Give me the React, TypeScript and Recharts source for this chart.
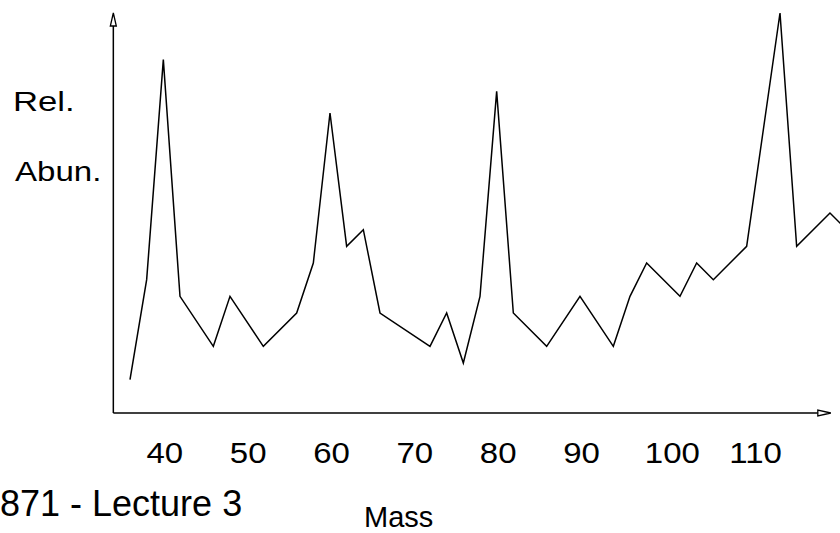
import { LineChart, Line, XAxis, YAxis, ReferenceLine } from "recharts";

const masses = [
  36, 38, 40, 42, 46, 48, 52, 56, 58, 60, 62, 64, 66, 72, 74, 76, 78, 80, 82,
  86, 90, 94, 96, 98, 102, 104, 106, 110, 114, 116, 120, 122,
];
const abundance = [
  2, 8, 21.2, 7, 4, 7, 4, 6, 9, 18, 10, 11, 6, 4, 6, 3, 7, 19.3, 6, 4, 7, 4, 7,
  9, 7, 9, 8, 10, 24, 10, 12, 11,
];
const massTicks = [40, 50, 60, 70, 80, 90, 100, 110];

const FONT = "'Liberation Sans', Arial, Helvetica, sans-serif";

// arrow-headed axis line (open triangle head at x2,y2)
const ArrowLine = (props: any) => {
  const { x1, y1, x2, y2 } = props;
  const dx = x2 - x1;
  const dy = y2 - y1;
  const len = Math.sqrt(dx * dx + dy * dy) || 1;
  const ux = dx / len;
  const uy = dy / len;
  const headLen = 13;
  const headW = 3;
  const bx = x2 - ux * headLen;
  const by = y2 - uy * headLen;
  const pts = [
    `${x2},${y2}`,
    `${bx - uy * headW},${by + ux * headW}`,
    `${bx + uy * headW},${by - ux * headW}`,
  ].join(" ");
  return (
    <g>
      <line x1={x1} y1={y1} x2={bx} y2={by} stroke="#000" strokeWidth={1.5} />
      <polygon points={pts} fill="#fff" stroke="#000" strokeWidth={1.3} />
    </g>
  );
};

const MassTick = (props: any) => {
  const { x, y, payload } = props;
  const shift = payload.value >= 100 ? 9 : 1.5;
  return (
    <text
      transform={`translate(${x + shift},${y + 50}) scale(1.1,1)`}
      textAnchor="middle"
      fontFamily={FONT}
      fontSize={30}
      fill="#000"
    >
      {payload.value}
    </text>
  );
};

const Wide = ({ x, y, size, sx, children }: any) => (
  <text transform={`translate(${x},${y}) scale(${sx},1)`} fontSize={size}>
    {children}
  </text>
);

export default function App() {
  const data = masses.map((m, i) => ({ mass: m, abundance: abundance[i] }));

  return (
    <div
      style={{
        position: "absolute",
        left: 0,
        top: 0,
        width: 840,
        height: 533,
        overflow: "hidden",
        background: "#fff",
      }}
    >
      <LineChart
        width={846.67}
        height={533}
        data={data}
        margin={{ top: 4.67, right: 0, bottom: 0, left: 113.33 }}
      >
        <XAxis
          dataKey="mass"
          type="number"
          domain={[34, 122]}
          ticks={massTicks}
          axisLine={false}
          tickLine={false}
          tickSize={0}
          tickMargin={0}
          height={120}
          tick={<MassTick />}
          interval={0}
        />
        <YAxis domain={[0, 24.5]} hide width={0} />
        <ReferenceLine
          segment={[
            { x: 34, y: 0 },
            { x: 120.1, y: 0 },
          ]}
          ifOverflow="visible"
          shape={(p: any) => <ArrowLine {...p} />}
        />
        <ReferenceLine
          segment={[
            { x: 34, y: 0 },
            { x: 34, y: 24 },
          ]}
          ifOverflow="visible"
          shape={(p: any) => <ArrowLine {...p} />}
        />
        <Line
          dataKey="abundance"
          type="linear"
          stroke="#000"
          strokeWidth={1.5}
          dot={false}
          activeDot={false}
          isAnimationActive={false}
        />
      </LineChart>
      <svg
        width={840}
        height={533}
        style={{ position: "absolute", left: 0, top: 0, pointerEvents: "none" }}
      >
        <g fontFamily={FONT} fill="#000">
          <Wide x={13} y={111} size={28} sx={1.24}>
            Rel.
          </Wide>
          <Wide x={15} y={180.7} size={28} sx={1.18}>
            Abun.
          </Wide>
          <Wide x={0} y={516} size={36} sx={1}>
            871 - Lecture 3
          </Wide>
          <Wide x={364} y={527} size={29} sx={1}>
            Mass
          </Wide>
        </g>
      </svg>
    </div>
  );
}
